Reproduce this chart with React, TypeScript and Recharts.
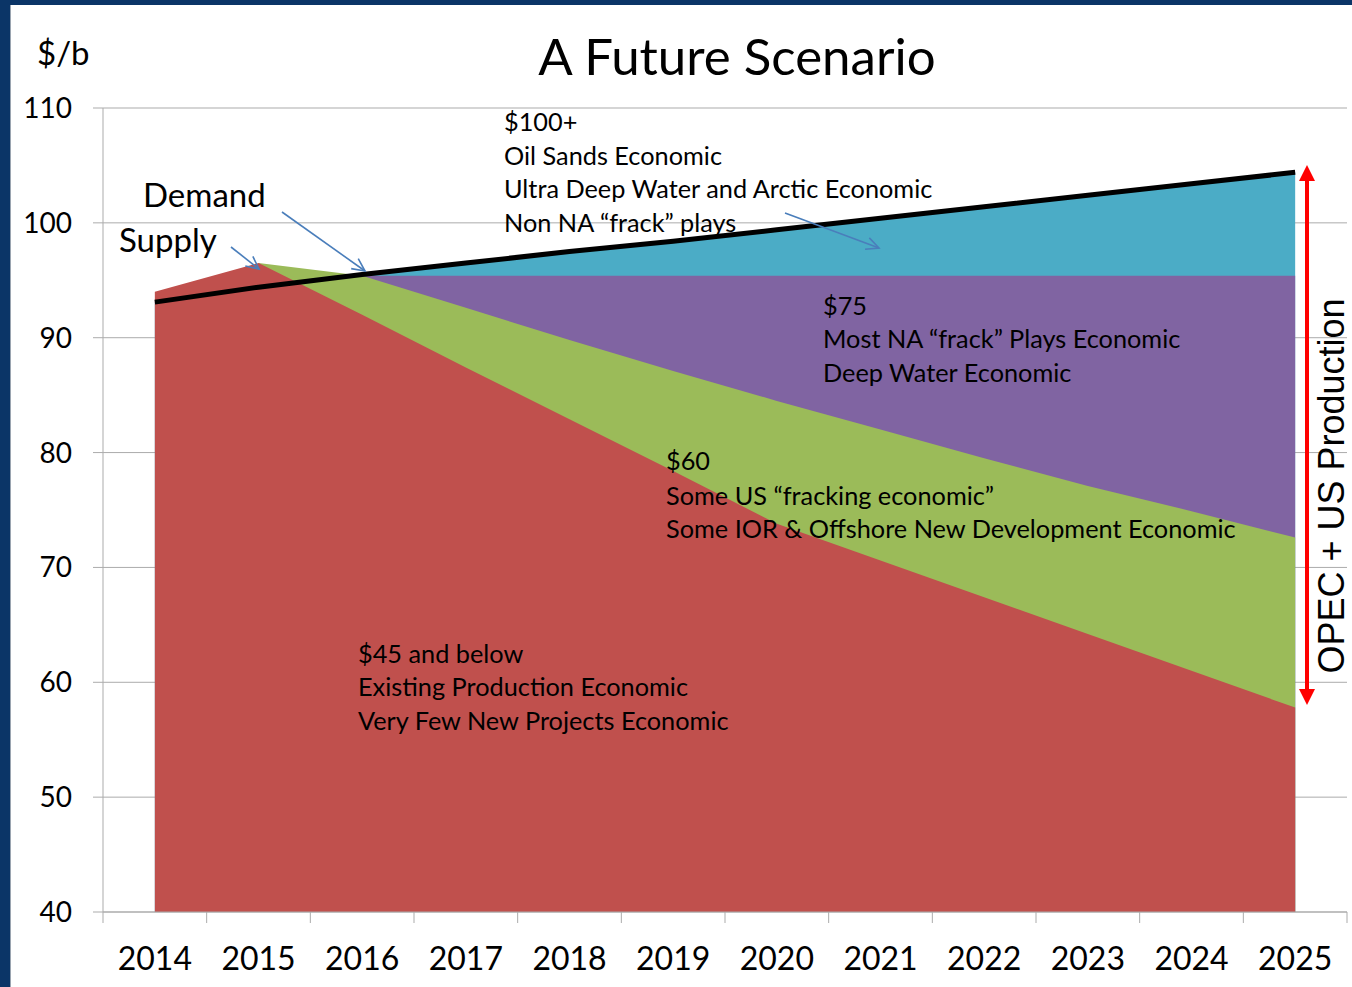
import React from "react";
import {
  ComposedChart,
  Area,
  Line,
  XAxis,
  YAxis,
  CartesianGrid,
} from "recharts";

const years = ["2014", "2015", "2016", "2017", "2018", "2019", "2020", "2021", "2022", "2023", "2024", "2025"];
// tops of each cost band, $/b scale
const below45 = [94.0, 96.5, 92.0, 87.4, 82.9, 78.4, 73.8, 70.6, 67.4, 64.2, 61.0, 57.8];
const below60 = [null, 96.5, 95.4, 92.6, 89.8, 87.1, 84.5, 82.0, 79.5, 77.1, 74.9, 72.6];
const below75 = [null, null, 95.4, 95.4, 95.4, 95.4, 95.4, 95.4, 95.4, 95.4, 95.4, 95.4];
const demand = [93.1, 94.4, 95.5, 96.5, 97.5, 98.4, 99.4, 100.4, 101.4, 102.4, 103.4, 104.4];
const yTicks = [40, 50, 60, 70, 80, 90, 100, 110];

const rows = years.map((year, i) => ({
  year,
  below45: below45[i],
  below60: below60[i],
  below75: below75[i],
  demand: demand[i],
}));

const W = 1352;
const H = 987;
const MARGIN = { top: 108, right: 5, bottom: 0, left: 0 };
const Y_AXIS_W = 103;
const X_AXIS_H = 75;
const PLOT_W = W - MARGIN.left - MARGIN.right - Y_AXIS_W;
const BAND = PLOT_W / years.length;

const GRAY = "#ABABAB";
const FONT = "Lato, 'Open Sans', sans-serif";
const BLUE = "#4A7EBB";

function YearTick(props: any) {
  const { x, y, payload, index } = props;
  const half = BAND / 2;
  return (
    <g>
      <line x1={x - half} y1={y} x2={x - half} y2={y + 11} stroke={GRAY} />
      {index === years.length - 1 && (
        <line x1={x + half} y1={y} x2={x + half} y2={y + 11} stroke={GRAY} />
      )}
      <text x={x} y={y + 58} textAnchor="middle" fontSize={32} fontFamily={FONT} fill="#000">
        {payload.value}
      </text>
    </g>
  );
}

function Pointer({ x1, y1, x2, y2 }: { x1: number; y1: number; x2: number; y2: number }) {
  const ang = Math.atan2(y2 - y1, x2 - x1);
  const len = 14;
  const spread = 0.45;
  const a = [x2 - len * Math.cos(ang - spread), y2 - len * Math.sin(ang - spread)];
  const b = [x2 - len * Math.cos(ang + spread), y2 - len * Math.sin(ang + spread)];
  return (
    <g stroke={BLUE} strokeWidth={1.6} fill="none">
      <line x1={x1} y1={y1} x2={x2} y2={y2} />
      <polyline points={`${a[0]},${a[1]} ${x2},${y2} ${b[0]},${b[1]}`} />
    </g>
  );
}

function Block({ x, ys, lines }: { x: number; ys: number[]; lines: string[] }) {
  return (
    <g fontFamily={FONT} fontSize={25.3} fill="#000">
      {lines.map((t, i) => (
        <text key={i} x={x} y={ys[i]}>
          {t}
        </text>
      ))}
    </g>
  );
}

function Notes() {
  return (
    <svg
      width={W}
      height={H}
      style={{ position: "absolute", left: 0, top: 0, pointerEvents: "none" }}
    >
      <text x={37} y={65} fontFamily={FONT} fontSize={33} fill="#000">$/b</text>
      <text x={737} y={75} textAnchor="middle" fontFamily={FONT} fontSize={51} fill="#000">
        A Future Scenario
      </text>
      <text x={143} y={207} fontFamily={FONT} fontSize={33} fill="#000">Demand</text>
      <text x={119} y={252} fontFamily={FONT} fontSize={33} fill="#000">Supply</text>
      <Pointer x1={231} y1={247} x2={259} y2={269} />
      <Pointer x1={282} y1={212} x2={365} y2={271} />
      <Pointer x1={785} y1={213} x2={879} y2={248} />

      <Block
        x={504}
        ys={[131, 165, 198, 232]}
        lines={["$100+", "Oil Sands Economic", "Ultra Deep Water and Arctic Economic", "Non NA “frack” plays"]}
      />
      <Block x={823} ys={[315, 348, 382]} lines={["$75", "Most NA “frack” Plays Economic", "Deep Water Economic"]} />
      <Block
        x={666}
        ys={[470, 505, 538]}
        lines={["$60", "Some US “fracking economic”", "Some IOR & Offshore New Development Economic"]}
      />
      <Block
        x={358}
        ys={[663, 696, 730]}
        lines={["$45 and below", "Existing Production Economic", "Very Few New Projects Economic"]}
      />

      <line x1={1307} y1={178} x2={1307} y2={692} stroke="#FF0000" strokeWidth={4} />
      <polygon points="1307,165 1299,181 1315,181" fill="#FF0000" />
      <polygon points="1307,705 1299,689 1315,689" fill="#FF0000" />
      <text
        transform="translate(1344,486) rotate(-90)"
        textAnchor="middle"
        fontFamily="'Liberation Sans', Arial, sans-serif"
        fontSize={36}
        fill="#000"
      >
        OPEC + US Production
      </text>
    </svg>
  );
}

export default function App() {
  return (
    <div style={{ position: "relative", width: W, height: H, background: "#0b3567", overflow: "hidden" }}>
      <style>{"body{margin:0}"}</style>
      <div
        style={{
          position: "absolute",
          left: 10,
          top: 5,
          width: W - 10,
          height: H - 5,
          background: "#fff",
          borderLeft: "1px solid #9aa4b0",
          boxSizing: "border-box",
        }}
      />
      <div style={{ position: "absolute", left: 0, top: 0 }}>
        <ComposedChart width={W} height={H} data={rows} margin={MARGIN}>
          <CartesianGrid horizontal vertical={false} stroke={GRAY} />
          <XAxis
            dataKey="year"
            interval={0}
            height={X_AXIS_H}
            padding={{ left: BAND / 2, right: BAND / 2 }}
            axisLine={{ stroke: GRAY }}
            tickLine={false}
            tickSize={0}
            tickMargin={0}
            tick={<YearTick />}
          />
          <YAxis
            type="number"
            domain={[40, 110]}
            ticks={yTicks}
            interval={0}
            width={Y_AXIS_W}
            axisLine={{ stroke: GRAY }}
            tickLine={{ stroke: GRAY }}
            tickSize={10}
            tickMargin={21}
            tick={{ fontSize: 28, fill: "#000", fontFamily: FONT }}
          />
          <Area
            type="linear"
            dataKey="demand"
            stroke="none"
            fill="#4BACC6"
            fillOpacity={1}
            isAnimationActive={false}
          />
          <Area
            type="linear"
            dataKey="below75"
            stroke="none"
            fill="#8064A2"
            fillOpacity={1}
            isAnimationActive={false}
          />
          <Area
            type="linear"
            dataKey="below60"
            stroke="none"
            fill="#9BBB59"
            fillOpacity={1}
            isAnimationActive={false}
          />
          <Area
            type="linear"
            dataKey="below45"
            stroke="none"
            fill="#C0504D"
            fillOpacity={1}
            isAnimationActive={false}
          />
          <Line
            type="linear"
            dataKey="demand"
            stroke="#000"
            strokeWidth={5}
            dot={false}
            activeDot={false}
            isAnimationActive={false}
          />
        </ComposedChart>
      </div>
      <Notes />
    </div>
  );
}
